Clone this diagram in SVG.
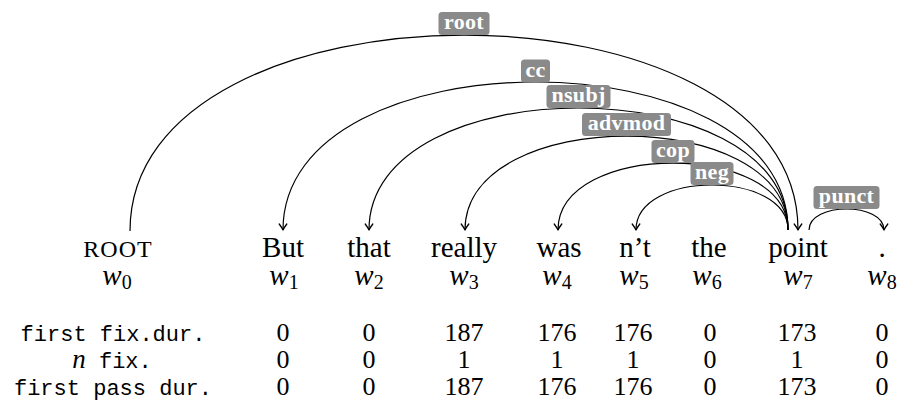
<svg xmlns="http://www.w3.org/2000/svg" width="897" height="403" viewBox="0 0 897 403">
  <style>
    .word { font-family: "Liberation Serif", "Times New Roman", serif; font-size: 29px; fill: #000; text-anchor: middle; }
    .sc { font-family: "Liberation Serif", "Times New Roman", serif; font-size: 24px; letter-spacing: 1px; fill: #000; text-anchor: middle; }
    .idx { font-family: "Liberation Serif", "Times New Roman", serif; font-size: 29px; font-style: italic; fill: #000; text-anchor: middle; }
    .sub { font-size: 20px; font-style: normal; }
    .arc { fill: none; stroke: #000; stroke-width: 1.2; }
    .lbl rect { fill: #8a8a8a; }
    .lbl text { font-family: "Liberation Serif", "Times New Roman", serif; font-size: 22px; font-weight: bold; letter-spacing: 0.3px; fill: #fff; text-anchor: middle; }
    .rowhead { font-family: "Liberation Mono", "Courier New", monospace; font-size: 22px; fill: #000; text-anchor: middle; }
    .num { font-family: "Liberation Serif", "Times New Roman", serif; font-size: 26px; fill: #000; text-anchor: middle; }
    .mathit { font-family: "Liberation Serif", "Times New Roman", serif; font-style: italic; font-size: 27px; }
  </style>
  <defs>
    <marker id="arrow" viewBox="-8 -5 10 10" refX="0" refY="0" markerWidth="10" markerHeight="10" orient="auto" markerUnits="userSpaceOnUse">
      <path d="M-6,-3.8 Q-2.4,-1.1 0,0 Q-2.4,1.1 -6,3.8" fill="none" stroke="#000" stroke-width="1.3" stroke-linecap="round" stroke-linejoin="round"/>
    </marker>
  </defs>

  <!-- dependency arcs: cubic curves whose control points sit straight above the endpoints -->
  <g id="connectors">
    <path id="e-root" class="arc" d="M130,231 C130,-30 798,-30 798,230" marker-end="url(#arrow)"/>
    <path id="e-cc" class="arc" d="M788,230 C788,32.7 283,32.7 283,230" marker-end="url(#arrow)"/>
    <path id="e-nsubj" class="arc" d="M788,230 C788,67.3 369,67.3 369,230" marker-end="url(#arrow)"/>
    <path id="e-advmod" class="arc" d="M788,230 C788,104.7 465,104.7 465,230" marker-end="url(#arrow)"/>
    <path id="e-cop" class="arc" d="M788,230 C788,140.7 558,140.7 558,230" marker-end="url(#arrow)"/>
    <path id="e-neg" class="arc" d="M788,230 C788,170 636,170 636,230" marker-end="url(#arrow)"/>
    <path id="e-punct" class="arc" d="M809,230 C809,202 884,202 884,230" marker-end="url(#arrow)"/>
  </g>

  <!-- relation labels, resting on the apex of each arc -->
  <g id="edge-labels">
    <g class="lbl" id="l-root"><rect x="438.5" y="12" width="51" height="23" rx="3.5"/><text x="464" y="29">root</text></g>
    <g class="lbl" id="l-cc"><rect x="521" y="59.5" width="29" height="23" rx="3.5"/><text x="535.5" y="76.5">cc</text></g>
    <g class="lbl" id="l-nsubj"><rect x="546.5" y="85" width="64" height="23" rx="3.5"/><text x="578.5" y="102">nsubj</text></g>
    <g class="lbl" id="l-advmod"><rect x="582" y="113" width="89" height="23" rx="3.5"/><text x="626.5" y="130">advmod</text></g>
    <g class="lbl" id="l-cop"><rect x="651.5" y="140" width="43" height="23" rx="3.5"/><text x="673" y="157">cop</text></g>
    <g class="lbl" id="l-neg"><rect x="690.5" y="162" width="43" height="23" rx="3.5"/><text x="712" y="179">neg</text></g>
    <g class="lbl" id="l-punct"><rect x="813.5" y="186" width="66" height="23" rx="3.5"/><text x="846.5" y="203">punct</text></g>
  </g>

  <!-- tokens with their indices -->
  <g id="w0"><text class="sc" x="118" y="257">ROOT</text><text class="idx" x="117" y="285">w<tspan class="sub" dy="4">0</tspan></text></g>
  <g id="w1"><text class="word" x="283" y="257">But</text><text class="idx" x="284" y="285">w<tspan class="sub" dy="4">1</tspan></text></g>
  <g id="w2"><text class="word" x="369" y="257">that</text><text class="idx" x="369" y="285">w<tspan class="sub" dy="4">2</tspan></text></g>
  <g id="w3"><text class="word" x="464" y="257">really</text><text class="idx" x="464" y="285">w<tspan class="sub" dy="4">3</tspan></text></g>
  <g id="w4"><text class="word" x="559" y="257">was</text><text class="idx" x="557" y="285">w<tspan class="sub" dy="4">4</tspan></text></g>
  <g id="w5"><text class="word" x="635" y="257">n’t</text><text class="idx" x="634" y="285">w<tspan class="sub" dy="4">5</tspan></text></g>
  <g id="w6"><text class="word" x="709" y="257">the</text><text class="idx" x="707" y="285">w<tspan class="sub" dy="4">6</tspan></text></g>
  <g id="w7"><text class="word" x="798" y="257">point</text><text class="idx" x="798" y="285">w<tspan class="sub" dy="4">7</tspan></text></g>
  <g id="w8"><text class="word" x="882" y="257">.</text><text class="idx" x="882" y="285">w<tspan class="sub" dy="4">8</tspan></text></g>

  <!-- eye-tracking measures per token -->
  <g id="table">
    <text class="rowhead" x="113" y="341">first fix.dur.</text>
    <text class="rowhead" x="112" y="368"><tspan class="mathit">n</tspan> fix.</text>
    <text class="rowhead" x="113" y="395">first pass dur.</text>

    <g class="num">
      <text x="283" y="341">0</text><text x="369" y="341">0</text><text x="464" y="341">187</text><text x="557" y="341">176</text>
      <text x="633" y="341">176</text><text x="710" y="341">0</text><text x="797" y="341">173</text><text x="882" y="341">0</text>

      <text x="283" y="368">0</text><text x="369" y="368">0</text><text x="464" y="368">1</text><text x="557" y="368">1</text>
      <text x="633" y="368">1</text><text x="710" y="368">0</text><text x="797" y="368">1</text><text x="882" y="368">0</text>

      <text x="283" y="395">0</text><text x="369" y="395">0</text><text x="464" y="395">187</text><text x="557" y="395">176</text>
      <text x="633" y="395">176</text><text x="710" y="395">0</text><text x="797" y="395">173</text><text x="882" y="395">0</text>
    </g>
  </g>
</svg>
